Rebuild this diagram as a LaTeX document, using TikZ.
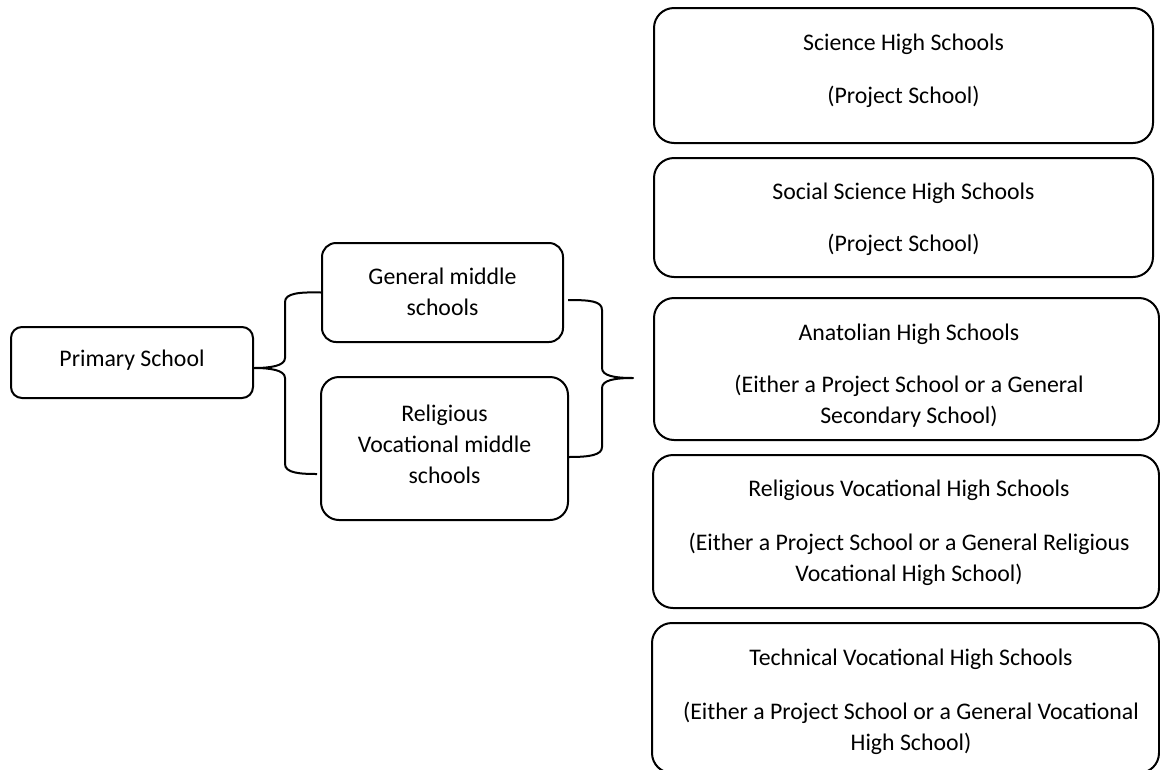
\documentclass[tikz,border=0pt]{standalone}
\usepackage{fontspec}
\setmainfont{Carlito}
\begin{document}
\begin{tikzpicture}[x=1pt,y=-1pt,
  box/.style={draw, line width=2pt, rounded corners=#1, inner sep=0pt},
  box/.default=14pt,
  txt/.style={font=\fontsize{23.8}{31}\selectfont, align=center, inner sep=0pt, anchor=base},
  brace/.style={draw, line width=2pt, line join=round}]
\useasboundingbox (0,0) rectangle (1160,769);
\clip (0,0) rectangle (1160,769);

% left column (text nodes are placed by the baseline of their last line)
\node[box=11pt, minimum width=242pt, minimum height=71pt] (prim) at (132,362.5) {};
\node[txt] (primT) at (132,366) {Primary School};

% middle column
\node[box, minimum width=241pt, minimum height=99pt] (gen) at (442.5,292.5) {};
\node[txt] (genT) at (442.5,315) {General middle\\schools};
\node[box=18pt, minimum width=247pt, minimum height=143pt] (rel) at (444.5,448.5) {};
\node[txt] (relT) at (444.5,483) {Religious\\Vocational middle\\schools};

% right column
\node[box=20pt, minimum width=499pt, minimum height=135pt] (sci) at (903.5,75.5) {};
\node[txt] (sciA) at (903.5,50) {Science High Schools};
\node[txt] (sciB) at (903.5,103) {(Project School)};

\node[box=20pt, minimum width=499pt, minimum height=119pt] (soc) at (903.5,217.5) {};
\node[txt] (socA) at (903.5,199) {Social Science High Schools};
\node[txt] (socB) at (903.5,251) {(Project School)};

\node[box=20pt, minimum width=505pt, minimum height=142pt] (ana) at (906.5,369) {};
\node[txt] (anaA) at (909,340) {Anatolian High Schools};
\node[txt] (anaB) at (909,423) {(Either a Project School or a General\\Secondary School)};

\node[box=20pt, minimum width=506pt, minimum height=153pt] (rvh) at (906,531.5) {};
\node[txt] (rvhA) at (909,496) {Religious Vocational High Schools};
\node[txt] (rvhB) at (909,581) {(Either a Project School or a General Religious\\Vocational High School)};

% the last box runs past the lower edge of the page
\node[box=20pt, minimum width=507pt, minimum height=150pt] (tec) at (905.5,698) {};
\node[txt] (tecA) at (911,665) {Technical Vocational High Schools};
\node[txt] (tecB) at (911,750) {(Either a Project School or a General Vocational\\High School)};

% brace from the primary school to both middle schools
\coordinate (lTip) at (prim.east |- 0,368);
\coordinate (lBot) at (317,474);
\draw[brace] (gen.west) .. controls (300,292) and (285,293) .. (285,302)
  -- (285,358) .. controls (285,366) and (270,368) .. (lTip)
  .. controls (270,368) and (285,370) .. (285,378)
  -- (285,464) .. controls (285,473) and (300,474) .. (lBot);

% brace from both middle schools to the high schools
\coordinate (rTop) at (568,300);
\coordinate (rTip) at (633,378);
\coordinate (rBot) at (rel.east |- 0,457);
\draw[brace] (rTop) .. controls (590,300) and (602,301) .. (602,310)
  -- (602,368) .. controls (602,376) and (615,378) .. (rTip)
  .. controls (615,378) and (602,380) .. (602,388)
  -- (602,447) .. controls (602,455) and (590,457) .. (rBot);
\end{tikzpicture}
\end{document}
